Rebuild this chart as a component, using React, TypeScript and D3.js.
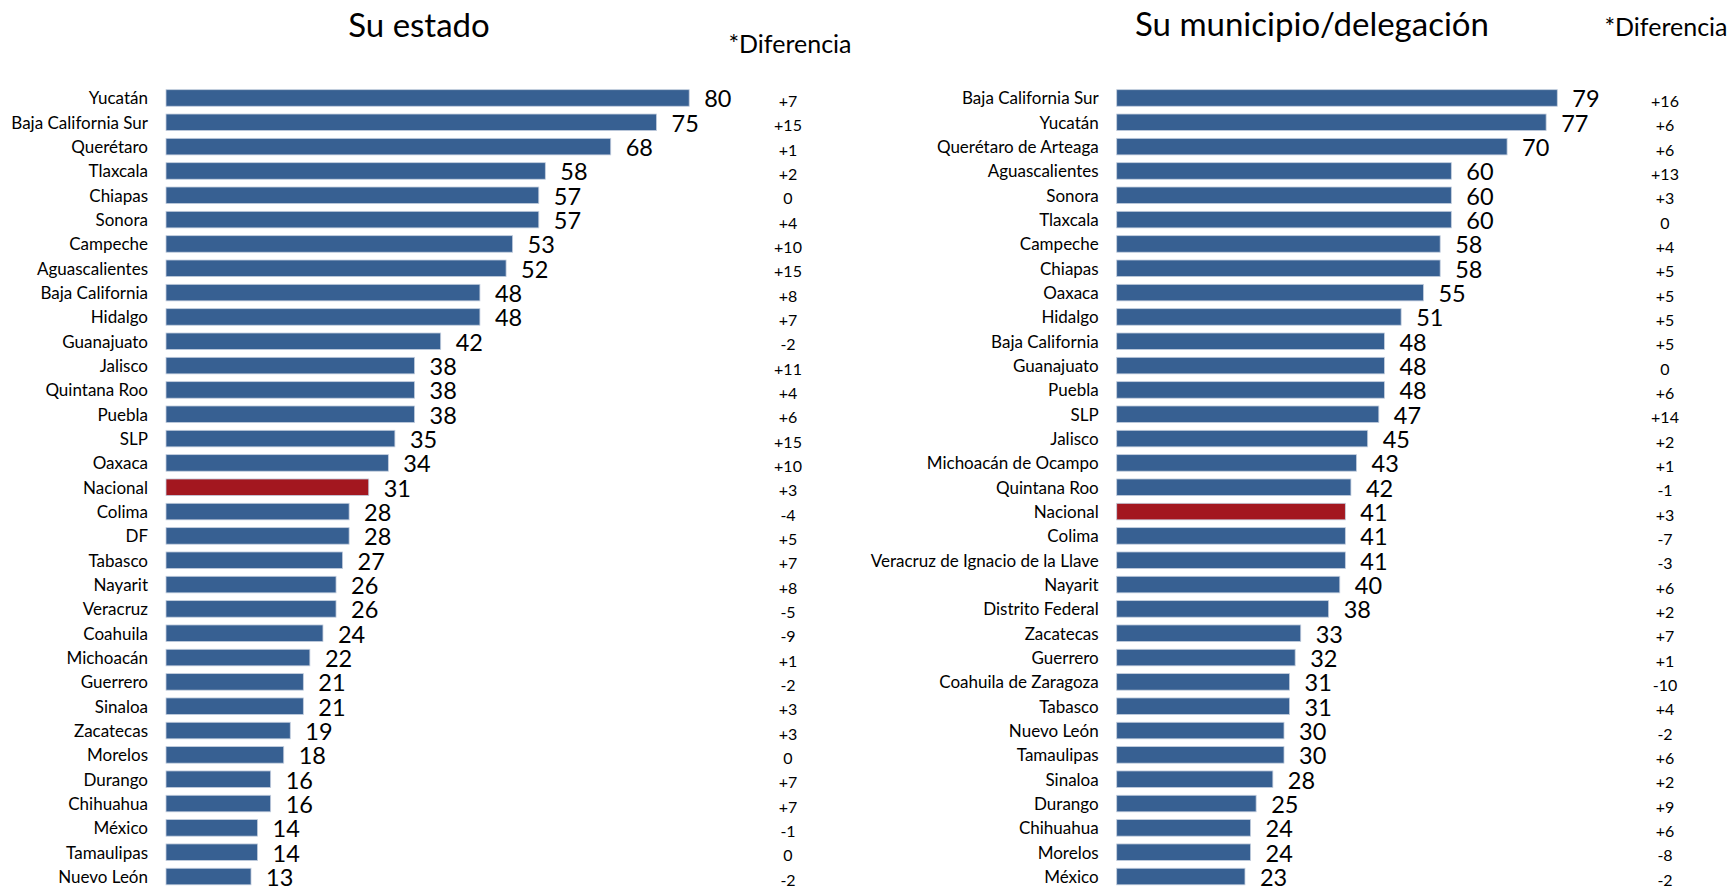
import { useEffect, useRef } from 'react';
import * as d3 from 'd3';

// Su estado
const STATE_NAMES = [
  'Yucatán', 'Baja California Sur', 'Querétaro', 'Tlaxcala', 'Chiapas', 'Sonora',
  'Campeche', 'Aguascalientes', 'Baja California', 'Hidalgo', 'Guanajuato', 'Jalisco',
  'Quintana Roo', 'Puebla', 'SLP', 'Oaxaca', 'Nacional', 'Colima', 'DF', 'Tabasco',
  'Nayarit', 'Veracruz', 'Coahuila', 'Michoacán', 'Guerrero', 'Sinaloa', 'Zacatecas',
  'Morelos', 'Durango', 'Chihuahua', 'México', 'Tamaulipas', 'Nuevo León',
];
const STATE_VALUES = [
  80, 75, 68, 58, 57, 57, 53, 52, 48, 48, 42, 38, 38, 38, 35, 34, 31,
  28, 28, 27, 26, 26, 24, 22, 21, 21, 19, 18, 16, 16, 14, 14, 13,
];
const STATE_DIFFS = [
  '+7', '+15', '+1', '+2', '0', '+4', '+10', '+15', '+8', '+7', '-2', '+11', '+4', '+6',
  '+15', '+10', '+3', '-4', '+5', '+7', '+8', '-5', '-9', '+1', '-2', '+3', '+3', '0',
  '+7', '+7', '-1', '0', '-2',
];

// Su municipio/delegación
const MUNI_NAMES = [
  'Baja California Sur', 'Yucatán', 'Querétaro de Arteaga', 'Aguascalientes', 'Sonora',
  'Tlaxcala', 'Campeche', 'Chiapas', 'Oaxaca', 'Hidalgo', 'Baja California', 'Guanajuato',
  'Puebla', 'SLP', 'Jalisco', 'Michoacán de Ocampo', 'Quintana Roo', 'Nacional', 'Colima',
  'Veracruz de Ignacio de la Llave', 'Nayarit', 'Distrito Federal', 'Zacatecas', 'Guerrero',
  'Coahuila de Zaragoza', 'Tabasco', 'Nuevo León', 'Tamaulipas', 'Sinaloa', 'Durango',
  'Chihuahua', 'Morelos', 'México',
];
const MUNI_VALUES = [
  79, 77, 70, 60, 60, 60, 58, 58, 55, 51, 48, 48, 48, 47, 45, 43, 42,
  41, 41, 41, 40, 38, 33, 32, 31, 31, 30, 30, 28, 25, 24, 24, 23,
];
const MUNI_DIFFS = [
  '+16', '+6', '+6', '+13', '+3', '0', '+4', '+5', '+5', '+5', '+5', '0', '+6', '+14',
  '+2', '+1', '-1', '+3', '-7', '-3', '+6', '+2', '+7', '+1', '-10', '+4', '-2', '+6',
  '+2', '+9', '+6', '-8', '-2',
];

const W = 1735;
const H = 889;
const FONT = "Lato, 'Open Sans', sans-serif";
const BLUE = '#376092';
const RED = '#a3171f';

type Panel = {
  title: string;
  titleX: number;
  titleY: number;
  diffHeadX: number;
  diffHeadY: number;
  names: string[];
  values: number[];
  diffs: string[];
  x0: number;
  pxPerUnit: number;
  diffX: number;
};

const PANELS: Panel[] = [
  {
    title: 'Su estado', titleX: 419, titleY: 37,
    diffHeadX: 790, diffHeadY: 53,
    names: STATE_NAMES, values: STATE_VALUES, diffs: STATE_DIFFS,
    x0: 166, pxPerUnit: 6.54, diffX: 788,
  },
  {
    title: 'Su municipio/delegación', titleX: 1312, titleY: 36,
    diffHeadX: 1666, diffHeadY: 36,
    names: MUNI_NAMES, values: MUNI_VALUES, diffs: MUNI_DIFFS,
    x0: 1116.7, pxPerUnit: 5.577, diffX: 1665,
  },
];

export default function App() {
  const svgRef = useRef<SVGSVGElement | null>(null);

  useEffect(() => {
    if (!svgRef.current) return;
    const svg = d3.select(svgRef.current);
    svg.selectAll('*').remove();

    svg.append('rect').attr('width', W).attr('height', H).attr('fill', '#ffffff');

    PANELS.forEach((p) => {
      const x = d3.scaleLinear().domain([0, 100]).range([p.x0, p.x0 + p.pxPerUnit * 100]);
      const y = d3.scaleBand<string>()
        .domain(p.names)
        .range([85.8, 888.7])
        .paddingInner(0.32)
        .paddingOuter(0.16);

      const g = svg.append('g').attr('font-family', FONT);

      // title + difference header
      g.append('text')
        .attr('x', p.titleX).attr('y', p.titleY)
        .attr('text-anchor', 'middle')
        .attr('font-size', 33)
        .attr('fill', '#000')
        .text(p.title);

      g.append('text')
        .attr('x', p.diffHeadX).attr('y', p.diffHeadY)
        .attr('text-anchor', 'middle')
        .attr('font-size', 25)
        .attr('fill', '#000')
        .text('*Diferencia');

      p.names.forEach((name, i) => {
        const v = p.values[i];
        const cy = (y(name) ?? 0) + y.bandwidth() / 2;

        g.append('rect')
          .attr('x', x(0))
          .attr('y', y(name) ?? 0)
          .attr('width', x(v) - x(0))
          .attr('height', y.bandwidth())
          .attr('fill', name === 'Nacional' ? RED : BLUE)
          .attr('stroke', '#c3cede')
          .attr('stroke-width', 0.8);

        // category label
        g.append('text')
          .attr('x', x(0) - 18)
          .attr('y', cy + 6.5)
          .attr('text-anchor', 'end')
          .attr('font-size', 17)
          .attr('fill', '#000')
          .text(name);

        // value label
        g.append('text')
          .attr('x', x(v) + 15)
          .attr('y', cy + 9.5)
          .attr('font-size', 23.5)
          .attr('fill', '#000')
          .text(v);

        // difference
        g.append('text')
          .attr('x', p.diffX)
          .attr('y', cy + 9)
          .attr('text-anchor', 'middle')
          .attr('font-size', 16)
          .attr('fill', '#000')
          .text(p.diffs[i]);
      });
    });
  }, []);

  return (
    <svg
      ref={svgRef}
      width={W}
      height={H}
      style={{ position: 'absolute', left: 0, top: 0, display: 'block' }}
    />
  );
}
